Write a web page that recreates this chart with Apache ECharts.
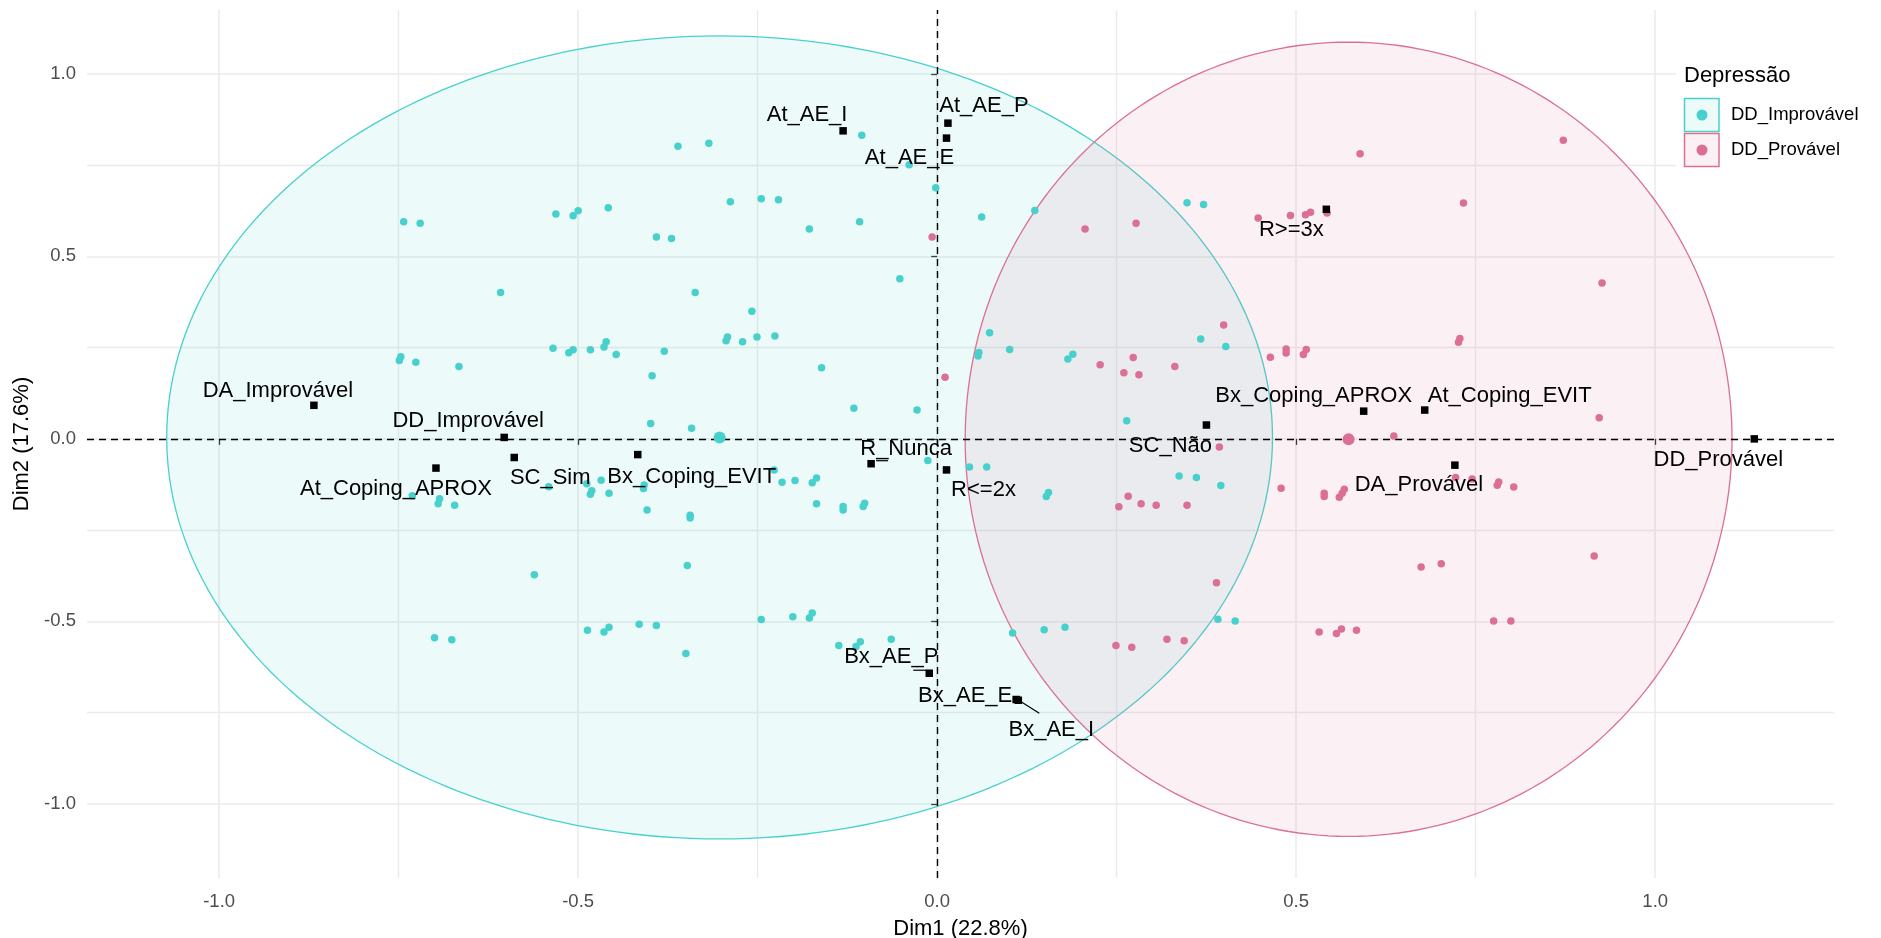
<!DOCTYPE html>
<html><head><meta charset="utf-8">
<script src="https://cdn.jsdelivr.net/npm/echarts@6/dist/echarts.min.js"></script>
<style>html,body{margin:0;padding:0;background:#fff}#c{width:1881px;height:938px}</style>
</head><body><div id="c"></div>
<script>
// ---------- data ----------
const xTickValues = [-1.0, -0.5, 0, 0.5, 1.0];
const yTickValues = [-1.0, -0.5, 0, 0.5, 1.0];
const groupNames = ['DD_Improvável', 'DD_Provável'];
const legendTitle = 'Depressão';
const xTitle = 'Dim1 (22.8%)';
const yTitle = 'Dim2 (17.6%)';

const improvavelPoints = [
[-0.361,0.802],[-0.318,0.810],[-0.288,0.650],[-0.245,0.658],[-0.221,0.655],
[-0.743,0.595],[-0.720,0.591],[-0.531,0.616],[-0.507,0.611],[-0.500,0.625],[-0.458,0.633],
[-0.391,0.553],[-0.370,0.549],[-0.608,0.401],[-0.337,0.401],[-0.258,0.350],
[-0.294,0.269],[-0.292,0.279],[-0.271,0.266],[-0.251,0.279],[-0.226,0.282],
[-0.749,0.215],[-0.747,0.225],[-0.726,0.210],[-0.666,0.198],[-0.535,0.248],[-0.513,0.236],[-0.507,0.244],[-0.483,0.244],[-0.464,0.252],[-0.461,0.266],[-0.447,0.231],[-0.397,0.173],[-0.380,0.240],
[-0.105,0.832],[-0.039,0.751],[-0.002,0.688],[-0.178,0.575],[-0.108,0.595],[0.062,0.608],[0.136,0.626],[0.348,0.647],[0.371,0.642],[-0.052,0.439],[-0.161,0.195],[0.073,0.291],[0.057,0.227],[0.058,0.237],[0.101,0.245],[0.182,0.219],[0.189,0.232],[0.367,0.274],[0.402,0.253],
[-0.399,0.042],[-0.342,0.029],[-0.116,0.084],[-0.028,0.079],[0.264,0.050],
[-0.731,-0.156],[-0.695,-0.178],[-0.693,-0.164],[-0.672,-0.182],[-0.541,-0.131],[-0.488,-0.123],[-0.468,-0.113],[-0.483,-0.152],[-0.481,-0.142],[-0.457,-0.149],[-0.409,-0.136],[-0.408,-0.126],
[-0.227,-0.085],[-0.216,-0.119],[-0.198,-0.114],[-0.404,-0.195],[-0.344,-0.209],[-0.344,-0.217],
[-0.013,-0.059],[0.045,-0.077],[0.069,-0.077],[-0.174,-0.120],[-0.168,-0.107],[-0.168,-0.178],[-0.131,-0.185],[-0.131,-0.195],[-0.103,-0.185],[-0.101,-0.176],[0.152,-0.158],[0.155,-0.147],[0.337,-0.102],[0.361,-0.106],[0.395,-0.128],
[-0.561,-0.372],[-0.348,-0.347],
[-0.700,-0.545],[-0.676,-0.550],[-0.487,-0.524],[-0.464,-0.529],[-0.457,-0.516],[-0.415,-0.508],[-0.391,-0.511],[-0.350,-0.588],[-0.245,-0.495],[-0.201,-0.487],
[-0.178,-0.491],[-0.174,-0.477],[-0.137,-0.566],[-0.113,-0.569],[-0.107,-0.556],[-0.064,-0.549],[0.105,-0.532],[0.149,-0.523],[0.178,-0.516],[0.391,-0.494],[0.415,-0.499]
];

const provavelPoints = [
[-0.007,0.553],[0.206,0.575],[0.277,0.591],[0.011,0.169],[0.227,0.203],[0.260,0.181],[0.273,0.223],[0.281,0.176],[0.331,0.198],
[0.589,0.781],[0.872,0.818],[0.447,0.605],[0.492,0.612],[0.513,0.614],[0.520,0.621],[0.543,0.619],[0.733,0.646],[0.926,0.427],[0.399,0.312],[0.464,0.224],[0.486,0.246],[0.486,0.235],[0.510,0.231],[0.514,0.245],[0.726,0.265],[0.728,0.275],
[0.266,-0.157],[0.253,-0.186],[0.284,-0.178],[0.305,-0.182],[0.348,-0.182],[0.249,-0.566],[0.271,-0.571],[0.320,-0.549],[0.344,-0.553],
[0.636,0.008],[0.922,0.058],[0.393,-0.022],[0.479,-0.135],[0.539,-0.149],[0.539,-0.158],[0.560,-0.160],[0.564,-0.149],[0.567,-0.138],[0.722,-0.106],[0.745,-0.110],[0.780,-0.127],[0.782,-0.118],[0.803,-0.132],[0.915,-0.321],[0.389,-0.394],[0.674,-0.351],[0.702,-0.342],[0.532,-0.529],[0.556,-0.533],[0.563,-0.521],[0.584,-0.524],[0.775,-0.499],[0.799,-0.499]
];

const groupCentroids = [[-0.303, 0.004], [0.573, -0.001]];
const ellipseRadii = [[0.770, 1.100], [0.534, 1.088]];

const catNames = ['At_AE_I','At_AE_P','At_AE_E','R>=3x','DA_Improvável','DD_Improvável','At_Coping_APROX','SC_Sim','Bx_Coping_EVIT','R_Nunca','R<=2x','SC_Não','Bx_Coping_APROX','At_Coping_EVIT','DA_Provável','DD_Provável','Bx_AE_P','Bx_AE_E','Bx_AE_I'];
const catX = [-0.131, 0.015, 0.013, 0.542, -0.868, -0.603, -0.698, -0.589, -0.417, -0.092, 0.013, 0.375, 0.594, 0.679, 0.721, 1.138, -0.011, 0.110, 0.113];
const catY = [0.844, 0.865, 0.824, 0.629, 0.092, 0.004, -0.080, -0.051, -0.043, -0.068, -0.085, 0.038, 0.076, 0.079, -0.072, 0.000, -0.642, -0.714, -0.716];

// ---------- layout / style (not data) ----------
const labelOffsets = [[-36,-16],[36,-17],[-37,20],[-35,21],[-36,-14],[-36,-16],[-40,21],[36,20],[54,22],[35,-15],[37,20],[-36,21],[-50,-15],[85,-14],[-36,20],[-36,21],[-38,-16],[-51,-4],[33,30]];
// leader segments (pixel offsets from the category marker): [name, startOffset, endOffset]
const leaderSegments = [['Bx_AE_I', [2, 1], [21, 13]], ['R_Nunca', [5, -3], [17, -3]], ['Bx_AE_P', [-16, -3], [-3, -3]]];
const groupColors = ['#48D1CC', '#DB7093'];
const groupFills = ['rgba(72,209,204,0.10)', 'rgba(219,112,147,0.10)'];
const FONT = "'Liberation Sans', Arial, sans-serif";

const chart = echarts.init(document.getElementById('c'), null, {renderer: 'canvas'});

function renderEllipse(params, api) {
  const cx = api.value(0), cy = api.value(1), rx = api.value(2), ry = api.value(3);
  const pts = [];
  const N = 240;
  for (let i = 0; i <= N; i++) {
    const t = i / N * Math.PI * 2;
    pts.push(api.coord([cx + rx * Math.cos(t), cy + ry * Math.sin(t)]));
  }
  return {
    type: 'polygon',
    shape: { points: pts },
    style: { fill: groupFills[params.dataIndex], stroke: groupColors[params.dataIndex], lineWidth: 1.3 }
  };
}

const ellipseData = groupCentroids.map((c, i) => [c[0], c[1], ellipseRadii[i][0], ellipseRadii[i][1]]);

function groupSeries(i, pts) {
  const data = pts.map(p => [p[0], p[1]]);
  data.push({ value: groupCentroids[i], symbolSize: 12 });
  return {
    type: 'scatter', name: groupNames[i], data: data,
    symbol: 'circle', symbolSize: 7.5, z: 3,
    itemStyle: { color: groupColors[i], opacity: 1 },
    emphasis: { disabled: true }, silent: true
  };
}

const catData = catNames.map((n, i) => ({ name: n, value: [catX[i], catY[i]] }));

const leaderData = leaderSegments.map(s => {
  const i = catNames.indexOf(s[0]);
  return [catX[i], catY[i]];
});

function renderLeader(params, api) {
  const p = api.coord([api.value(0), api.value(1)]);
  const s = leaderSegments[params.dataIndex];
  return {
    type: 'line',
    shape: { x1: p[0] + s[1][0], y1: p[1] + s[1][1], x2: p[0] + s[2][0], y2: p[1] + s[2][1] },
    style: { stroke: '#000', lineWidth: 1.2 }
  };
}

const axisCommon = {
  type: 'value', splitNumber: 5,
  axisLine: { show: false },
  axisTick: { show: true, length: 6, lineStyle: { color: '#333333', width: 1.3 } },
  splitLine: { show: true, lineStyle: { color: '#EBEBEB', width: 1.6 } },
  minorTick: { show: false, splitNumber: 2 },
  minorSplitLine: { show: true, lineStyle: { color: '#EBEBEB', width: 1.4 } },
  nameLocation: 'middle',
  nameTextStyle: { color: '#000', fontSize: 22, fontFamily: FONT }
};

const option = {
  animation: false,
  backgroundColor: '#fff',
  textStyle: { fontFamily: FONT },
  grid: { left: 87, right: 47, top: 10, bottom: 60, containLabel: false, outerBoundsMode: 'none' },
  xAxis: Object.assign({}, axisCommon, {
    min: -1.184, max: 1.249, name: xTitle, nameGap: 40,
    axisTick: Object.assign({}, axisCommon.axisTick, { customValues: xTickValues }),
    axisLabel: { customValues: xTickValues, color: '#4D4D4D', fontSize: 18.5, margin: 14, formatter: v => Number(v).toFixed(1) }
  }),
  yAxis: Object.assign({}, axisCommon, {
    min: -1.203, max: 1.175, name: yTitle, nameGap: 42,
    axisTick: Object.assign({}, axisCommon.axisTick, { customValues: yTickValues }),
    axisLabel: { customValues: yTickValues, color: '#4D4D4D', fontSize: 18.5, margin: 11, formatter: v => Number(v).toFixed(1) }
  }),
  series: [
    {
      type: 'custom', name: 'ellipses', data: ellipseData, renderItem: renderEllipse,
      encode: { x: 0, y: 1 }, z: 1, silent: true, clip: true,
      markLine: {
        silent: true, symbol: 'none', z: 2,
        label: { show: false },
        lineStyle: { color: '#000', type: [7, 5], width: 1.4 },
        emphasis: { disabled: true },
        data: [{ xAxis: 0 }, { yAxis: 0 }]
      }
    },
    groupSeries(0, improvavelPoints),
    groupSeries(1, provavelPoints),
    {
      type: 'custom', name: 'leaders', data: leaderData, renderItem: renderLeader,
      encode: { x: 0, y: 1 }, z: 4, silent: true
    },
    {
      type: 'scatter', name: 'categorias', data: catData,
      symbol: 'rect', symbolSize: 7.5, z: 5, silent: true,
      itemStyle: { color: '#000', opacity: 1 },
      label: { show: true, position: 'inside', formatter: '{b}', color: '#000', fontSize: 22, fontFamily: FONT, textBorderWidth: 0 },
      labelLine: { show: false },
      labelLayout: function (params) {
        const o = labelOffsets[params.dataIndex];
        return { dx: o[0], dy: o[1] };
      },
      emphasis: { disabled: true }
    }
  ],
  graphic: [
    { type: 'rect', z: 100, shape: { x: 1676, y: 40, width: 205, height: 132 }, style: { fill: '#fff' }, silent: true },
    { type: 'text', z: 101, x: 1684, y: 76, style: { text: legendTitle, fill: '#000', font: "22px 'Liberation Sans', Arial, sans-serif", textVerticalAlign: 'middle' } },
    { type: 'rect', z: 101, shape: { x: 1684.5, y: 98.5, width: 34.5, height: 33 }, style: { fill: groupFills[0], stroke: groupColors[0], lineWidth: 1.5 } },
    { type: 'rect', z: 101, shape: { x: 1684.5, y: 133.5, width: 34.5, height: 33 }, style: { fill: groupFills[1], stroke: groupColors[1], lineWidth: 1.5 } },
    { type: 'circle', z: 102, shape: { cx: 1702, cy: 115, r: 5.5 }, style: { fill: groupColors[0] } },
    { type: 'circle', z: 102, shape: { cx: 1702, cy: 150, r: 5.5 }, style: { fill: groupColors[1] } },
    { type: 'text', z: 102, x: 1731, y: 115, style: { text: groupNames[0], fill: '#000', font: "18.5px 'Liberation Sans', Arial, sans-serif", textVerticalAlign: 'middle' } },
    { type: 'text', z: 102, x: 1731, y: 150, style: { text: groupNames[1], fill: '#000', font: "18.5px 'Liberation Sans', Arial, sans-serif", textVerticalAlign: 'middle' } }
  ]
};
chart.setOption(option);
</script>
</body></html>
